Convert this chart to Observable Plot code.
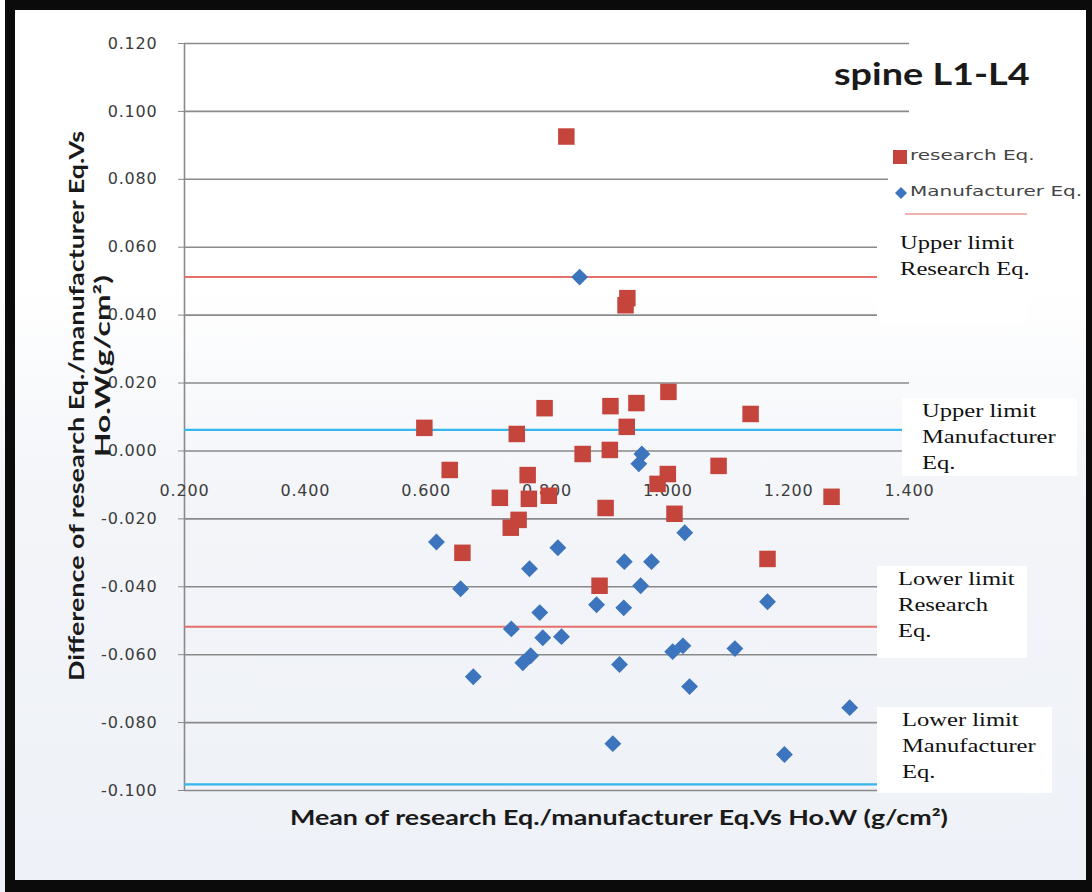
<!DOCTYPE html>
<html>
<head>
<meta charset="utf-8">
<script src="https://cdn.jsdelivr.net/npm/d3@7"></script>
<script src="https://cdn.jsdelivr.net/npm/@observablehq/plot@0.6"></script>
<style>
  body { margin: 0; background: #fff; }
  #wrap {
    position: relative; width: 1092px; height: 892px; overflow: hidden;
    background: linear-gradient(to bottom, #ffffff 0%, #ffffff 32%, #f3f5f9 55%, #eef1f7 100%);
  }
  #chart { position: absolute; left: 0; top: 0; }
  #frame {
    position: absolute; left: 5px; top: 0; right: 0; bottom: 0;
    border-style: solid; border-color: #0b0b0b; border-width: 10px 6px 12px 10px;
    pointer-events: none;
  }
  .note {
    position: absolute; background: #fff; color: #111; box-sizing: border-box;
    font-family: "Liberation Serif", serif; font-size: 19.5px; line-height: 26px;
  }
  .note span, .wide { display: inline-block; transform: scaleX(1.26); transform-origin: left top; white-space: nowrap; }
  #title {
    position: absolute; left: 834px; top: 54px;
    font-family: Lato, sans-serif; font-weight: 700; font-size: 31px; color: #1a1a1a;
  }
  #title span { transform: scaleX(1.22); }
  #legend {
    position: absolute; left: 888px; top: 140px; width: 204px; height: 80px; background: #fff;
    font-family: "DejaVu Sans", sans-serif; font-size: 14.5px; color: #444;
  }
  #legend .row { position: absolute; left: 4px; top: 0; white-space: nowrap; }
  #legend .row span { transform: scaleX(1.38); }
  #legend svg { position: absolute; }
  svg text { letter-spacing: 0.8px; }
</style>
</head>
<body>
<div id="wrap">
  <div id="chart"></div>
  <div id="title"><span class="wide">spine L1-L4</span></div>
  <div id="legend">
    <svg style="left:5px;top:10px" width="14" height="14"><rect x="0" y="0" width="14" height="14" fill="#c5443c"/></svg>
    <div class="row" style="left:22px;top:7px"><span class="wide">research Eq.</span></div>
    <svg style="left:5px;top:46px" width="16" height="14"><path d="M8,1 L14,7 L8,13 L2,7Z" fill="#3c74bd"/></svg>
    <div class="row" style="left:22px;top:43px"><span class="wide">Manufacturer Eq.</span></div>
    <div style="position:absolute;left:17px;top:73px;width:122px;height:2px;background:#f2b3b0"></div>
  </div>
  <div class="note" style="left:877px;top:228px;width:150px;height:94px;padding:2px 0 0 23px"><span>Upper limit<br>Research Eq.</span></div>
  <div class="note" style="left:902px;top:398px;width:175px;height:78px;padding:0 0 0 20px"><span>Upper limit<br>Manufacturer<br>Eq.</span></div>
  <div class="note" style="left:877px;top:566px;width:150px;height:92px;padding:0 0 0 21px"><span>Lower limit<br>Research<br>Eq.</span></div>
  <div class="note" style="left:877px;top:707px;width:175px;height:86px;padding:0 0 0 25px"><span>Lower limit<br>Manufacturer<br>Eq.</span></div>
  <div id="frame"></div>
</div>
<script>
// Bland–Altman style comparison, spine L1-L4 (g/cm²)
const researchMean = [0.832, 0.933, 0.930, 1.001, 0.796, 0.905, 0.948, 1.137, 0.597, 0.750,
  0.932, 0.904, 0.859, 0.639, 1.084, 0.768, 1.000, 0.983, 1.271, 0.722,
  0.770, 0.803, 0.897, 1.011, 0.753, 0.740, 0.660, 1.165, 0.887];
const researchDiff = [0.0926, 0.0450, 0.0429, 0.0174, 0.0126, 0.0132, 0.0141, 0.0109, 0.0068, 0.0050,
  0.0071, 0.0003, -0.0009, -0.0056, -0.0044, -0.0071, -0.0068, -0.0097, -0.0135, -0.0138,
  -0.0141, -0.0132, -0.0168, -0.0185, -0.0203, -0.0226, -0.0300, -0.0318, -0.0397];

const manufMean = [0.854, 0.957, 0.952, 0.617, 0.818, 1.028, 0.771, 0.928, 0.973, 0.657,
  0.955, 0.882, 0.927, 0.788, 1.165, 0.741, 0.793, 0.824, 1.008, 1.025,
  1.111, 0.773, 0.760, 0.920, 0.678, 1.036, 1.301, 0.909, 1.193];
const manufDiff = [0.0512, -0.0009, -0.0038, -0.0268, -0.0285, -0.0241, -0.0347, -0.0326, -0.0326, -0.0406,
  -0.0397, -0.0453, -0.0462, -0.0476, -0.0444, -0.0524, -0.0550, -0.0547, -0.0591, -0.0574,
  -0.0582, -0.0603, -0.0624, -0.0629, -0.0665, -0.0694, -0.0756, -0.0862, -0.0894];

// limits of agreement
const researchUpper = 0.0512;
const researchLower = -0.0518;
const manufUpper = 0.0062;
const manufLower = -0.0982;

const xTicks = [0.2, 0.4, 0.6, 0.8, 1.0, 1.2, 1.4];
const yTicks = [-0.1, -0.08, -0.06, -0.04, -0.02, 0, 0.02, 0.04, 0.06, 0.08, 0.1, 0.12];

const xTitle = "Mean of research Eq./manufacturer Eq.Vs Ho.W (g/cm²)";
const yTitle1 = "Difference of research Eq./manufacturer Eq.Vs";
const yTitle2 = "Ho.W(g/cm²)";

const research = researchMean.map((m, i) => ({mean: m, diff: researchDiff[i]}));
const manuf = manufMean.map((m, i) => ({mean: m, diff: manufDiff[i]}));

const fmt3 = d3.format(".3f");
const fmt = d => fmt3(d).replace("\u2212", "-");
const titleFont = "Lato, 'Open Sans', sans-serif";

const chart = Plot.plot({
  width: 1092,
  height: 892,
  marginLeft: 184,
  marginRight: 183,
  marginTop: 43,
  marginBottom: 102,
  style: {background: "transparent", fontFamily: "'DejaVu Sans', sans-serif"},
  x: {domain: [0.2, 1.4], axis: null},
  y: {domain: [-0.1, 0.12], axis: null},
  marks: [
    Plot.ruleY(yTicks, {stroke: "#8a8a8a", strokeWidth: 1.6}),
    Plot.ruleX([0.2], {stroke: "#8a8a8a", strokeWidth: 1.6}),
    Plot.axisY(yTicks, {
      anchor: "left", tickSize: 6, tickPadding: 21, tickFormat: fmt,
      stroke: "#8a8a8a", fill: "#3c3c3c", fontSize: 16, label: null
    }),
    Plot.text(xTicks, {
      x: d => d, y: () => 0, text: fmt, dy: 40,
      fontSize: 16, fill: "#3c3c3c"
    }),
    Plot.ruleY([researchUpper, researchLower], {stroke: "#e46f6b", strokeWidth: 2}),
    Plot.ruleY([manufUpper, manufLower], {stroke: "#35b6ec", strokeWidth: 2.4}),
    Plot.dot(research, {x: "mean", y: "diff", symbol: "square", r: 9.3, fill: "#c5443c"}),
    Plot.dot(manuf, {x: "mean", y: "diff", symbol: "diamond2", r: 7.6, fill: "#3c74bd"}),
    Plot.text([xTitle], {
      frameAnchor: "bottom", textAnchor: "middle", lineAnchor: "middle", dx: 72, dy: 28,
      fontSize: 21, fontWeight: 700, fontFamily: titleFont, fill: "#1a1a1a"
    }),
    Plot.text([yTitle1], {
      frameAnchor: "left", textAnchor: "middle", lineAnchor: "middle", rotate: -90, dx: -107, dy: -11,
      fontSize: 21, fontWeight: 700, fontFamily: titleFont, fill: "#1a1a1a"
    }),
    Plot.text([yTitle2], {
      frameAnchor: "left", textAnchor: "middle", lineAnchor: "middle", rotate: -90, dx: -81, dy: -51,
      fontSize: 21, fontWeight: 700, fontFamily: titleFont, fill: "#1a1a1a"
    })
  ]
});

// widen the axis titles to the chart's stretched lettering
const titleLengths = new Map([[xTitle, 658], [yTitle1, 550], [yTitle2, 182]]);
d3.select(chart).selectAll("text")
  .filter(function() { return titleLengths.has(this.textContent); })
  .style("letter-spacing", "0px")
  .attr("textLength", function() { return titleLengths.get(this.textContent); })
  .attr("lengthAdjust", "spacingAndGlyphs");
document.getElementById("chart").appendChild(chart);
</script>
</body>
</html>
